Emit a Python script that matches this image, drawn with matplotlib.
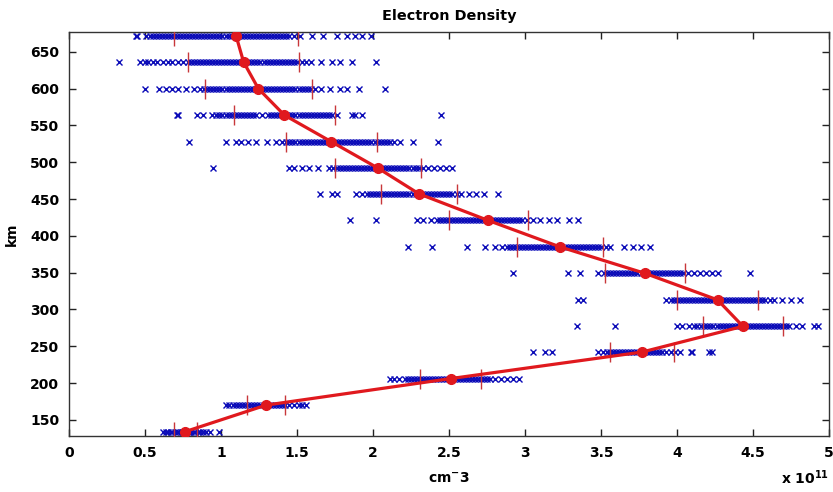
import matplotlib
matplotlib.use("Agg")
import matplotlib.pyplot as plt

# altitude levels (km)
altitudes = [134, 170, 206, 242, 277, 313, 349, 385, 421, 457, 492, 528, 564, 600, 636, 672]

# individual samples per level (units of 1e11 cm^-3)
samples = [
    [0.62, 0.64, 0.65, 0.67, 0.68, 0.70, 0.71, 0.72, 0.74, 0.75, 0.76, 0.78, 0.79, 0.80, 0.82, 0.83,
     0.85, 0.86, 0.88, 0.90, 0.93, 0.99],
    [1.03, 1.05, 1.08, 1.10, 1.12, 1.14, 1.16, 1.18, 1.20, 1.22, 1.24, 1.26, 1.28, 1.30, 1.32, 1.34,
     1.36, 1.38, 1.40, 1.42, 1.45, 1.48, 1.51, 1.53, 1.56],
    [2.11, 2.14, 2.17, 2.21, 2.23, 2.25, 2.27, 2.29, 2.31, 2.33, 2.35, 2.37, 2.39, 2.41, 2.43, 2.45,
     2.47, 2.49, 2.51, 2.53, 2.55, 2.57, 2.59, 2.61, 2.63, 2.65, 2.67, 2.69, 2.71, 2.73, 2.75, 2.77,
     2.80, 2.84, 2.88, 2.92, 2.96],
    [3.05, 3.13, 3.18, 3.48, 3.51, 3.54, 3.56, 3.58, 3.60, 3.62, 3.64, 3.66, 3.68, 3.70, 3.72, 3.74,
     3.76, 3.78, 3.80, 3.82, 3.84, 3.86, 3.88, 3.90, 3.93, 3.96, 3.99, 4.02, 4.09, 4.10, 4.21, 4.23],
    [3.34, 3.59, 4.00, 4.03, 4.08, 4.11, 4.13, 4.16, 4.18, 4.20, 4.22, 4.24, 4.26, 4.28, 4.30, 4.32,
     4.34, 4.36, 4.38, 4.40, 4.42, 4.44, 4.46, 4.48, 4.50, 4.52, 4.54, 4.56, 4.58, 4.60, 4.62, 4.64,
     4.66, 4.68, 4.70, 4.72, 4.74, 4.78, 4.82, 4.90, 4.93],
    [3.35, 3.38, 3.93, 3.96, 3.98, 4.00, 4.02, 4.04, 4.06, 4.08, 4.10, 4.12, 4.14, 4.16, 4.18, 4.20,
     4.22, 4.24, 4.26, 4.28, 4.30, 4.32, 4.34, 4.36, 4.38, 4.40, 4.42, 4.44, 4.46, 4.48, 4.50, 4.52,
     4.54, 4.56, 4.58, 4.61, 4.64, 4.69, 4.75, 4.81],
    [2.92, 3.28, 3.36, 3.48, 3.52, 3.54, 3.56, 3.58, 3.60, 3.62, 3.64, 3.66, 3.68, 3.70, 3.72, 3.74,
     3.76, 3.78, 3.80, 3.82, 3.84, 3.86, 3.88, 3.90, 3.92, 3.94, 3.96, 3.98, 4.00, 4.02, 4.04, 4.07,
     4.11, 4.15, 4.19, 4.23, 4.27, 4.48],
    [2.23, 2.39, 2.62, 2.74, 2.80, 2.85, 2.88, 2.90, 2.92, 2.94, 2.96, 2.98, 3.00, 3.02, 3.04, 3.06,
     3.08, 3.10, 3.12, 3.14, 3.16, 3.18, 3.20, 3.22, 3.24, 3.26, 3.28, 3.30, 3.32, 3.34, 3.36, 3.38,
     3.40, 3.42, 3.44, 3.46, 3.48, 3.50, 3.53, 3.56, 3.65, 3.71, 3.76, 3.82],
    [1.85, 2.02, 2.29, 2.33, 2.38, 2.42, 2.44, 2.46, 2.48, 2.50, 2.52, 2.54, 2.56, 2.58, 2.60, 2.62,
     2.64, 2.66, 2.68, 2.70, 2.72, 2.74, 2.76, 2.78, 2.80, 2.82, 2.84, 2.86, 2.88, 2.90, 2.92, 2.94,
     2.96, 2.98, 3.01, 3.05, 3.10, 3.16, 3.21, 3.29, 3.35],
    [1.65, 1.73, 1.76, 1.89, 1.93, 1.96, 1.98, 2.00, 2.02, 2.04, 2.06, 2.08, 2.10, 2.12, 2.14, 2.16,
     2.18, 2.20, 2.22, 2.24, 2.26, 2.28, 2.30, 2.32, 2.34, 2.36, 2.38, 2.40, 2.42, 2.44, 2.46, 2.48,
     2.50, 2.52, 2.55, 2.58, 2.63, 2.68, 2.73, 2.82],
    [0.95, 1.45, 1.48, 1.53, 1.58, 1.64, 1.71, 1.74, 1.76, 1.78, 1.80, 1.82, 1.84, 1.86, 1.88, 1.90,
     1.92, 1.94, 1.96, 1.98, 2.00, 2.02, 2.04, 2.06, 2.08, 2.10, 2.12, 2.14, 2.16, 2.18, 2.20, 2.22,
     2.24, 2.26, 2.28, 2.30, 2.33, 2.36, 2.40, 2.44, 2.48, 2.52],
    [0.79, 1.03, 1.10, 1.13, 1.18, 1.23, 1.30, 1.36, 1.40, 1.43, 1.45, 1.47, 1.49, 1.51, 1.53, 1.55,
     1.57, 1.59, 1.61, 1.63, 1.65, 1.67, 1.69, 1.71, 1.73, 1.75, 1.77, 1.79, 1.81, 1.83, 1.85, 1.87,
     1.89, 1.91, 1.93, 1.95, 1.97, 1.99, 2.01, 2.03, 2.05, 2.07, 2.09, 2.11, 2.14, 2.18, 2.26, 2.43],
    [0.71, 0.72, 0.84, 0.88, 0.94, 0.97, 0.99, 1.01, 1.03, 1.05, 1.07, 1.09, 1.11, 1.13, 1.15, 1.17,
     1.19, 1.21, 1.23, 1.27, 1.31, 1.33, 1.35, 1.37, 1.39, 1.41, 1.43, 1.45, 1.47, 1.49, 1.51, 1.53,
     1.55, 1.57, 1.59, 1.61, 1.63, 1.65, 1.67, 1.69, 1.71, 1.73, 1.76, 1.86, 1.88, 1.93, 2.45],
    [0.50, 0.59, 0.64, 0.68, 0.72, 0.77, 0.82, 0.86, 0.89, 0.91, 0.93, 0.95, 0.97, 0.99, 1.01, 1.03,
     1.05, 1.07, 1.09, 1.11, 1.13, 1.15, 1.17, 1.19, 1.21, 1.23, 1.25, 1.27, 1.29, 1.31, 1.33, 1.35,
     1.37, 1.39, 1.41, 1.43, 1.45, 1.47, 1.49, 1.51, 1.53, 1.55, 1.57, 1.59, 1.62, 1.66, 1.72, 1.78,
     1.83, 1.91, 2.08],
    [0.33, 0.47, 0.50, 0.52, 0.55, 0.58, 0.62, 0.65, 0.68, 0.72, 0.75, 0.78, 0.80, 0.82, 0.84, 0.86,
     0.88, 0.90, 0.92, 0.94, 0.96, 0.98, 1.00, 1.02, 1.04, 1.06, 1.08, 1.10, 1.12, 1.14, 1.16, 1.18,
     1.20, 1.22, 1.24, 1.26, 1.28, 1.30, 1.32, 1.34, 1.36, 1.38, 1.40, 1.42, 1.44, 1.46, 1.48, 1.50,
     1.53, 1.56, 1.59, 1.66, 1.73, 1.78, 1.86, 2.02],
    [0.44, 0.45, 0.51, 0.53, 0.55, 0.57, 0.59, 0.61, 0.63, 0.65, 0.67, 0.69, 0.71, 0.73, 0.75, 0.77,
     0.79, 0.81, 0.83, 0.85, 0.87, 0.89, 0.91, 0.93, 0.95, 0.97, 0.99, 1.01, 1.03, 1.05, 1.07, 1.09,
     1.11, 1.13, 1.15, 1.17, 1.19, 1.21, 1.23, 1.25, 1.27, 1.29, 1.31, 1.33, 1.35, 1.37, 1.39, 1.41,
     1.43, 1.45, 1.48, 1.52, 1.60, 1.67, 1.76, 1.83, 1.88, 1.93, 1.99],
]

# mean profile and spread per level (units of 1e11 cm^-3)
mean_density = [0.765, 1.297, 2.51, 3.768, 4.434, 4.267, 3.79, 3.23, 2.757, 2.303, 2.033, 1.725,
                1.417, 1.246, 1.149, 1.099]
std_density = [0.075, 0.125, 0.20, 0.21, 0.265, 0.265, 0.265, 0.28, 0.26, 0.25, 0.28, 0.30,
               0.33, 0.35, 0.365, 0.405]

x_ticks = [0, 0.5, 1, 1.5, 2, 2.5, 3, 3.5, 4, 4.5, 5]
x_tick_labels = ['0', '0.5', '1', '1.5', '2', '2.5', '3', '3.5', '4', '4.5', '5']
y_ticks = [150, 200, 250, 300, 350, 400, 450, 500, 550, 600, 650]

plt.rcParams['font.family'] = ['DejaVu Sans']
plt.rcParams['font.weight'] = 'bold'
plt.rcParams['mathtext.fontset'] = 'dejavusans'
plt.rcParams['mathtext.default'] = 'bf'

fig = plt.figure(figsize=(8.33, 4.92), dpi=100)
ax = fig.add_axes([0.0828, 0.1138, 0.9124, 0.8212])

blue = '#0c0cb8'
red = '#e0191e'

for alt, vals in zip(altitudes, samples):
    ax.plot(vals, [alt] * len(vals), linestyle='none', marker='x', markersize=5,
            markeredgewidth=1.0, color=blue, zorder=2)

ax.plot(mean_density, altitudes, color=red, linewidth=2.3, marker='o', markersize=7,
        markerfacecolor=red, markeredgecolor=red, zorder=4)

lo = [m - s for m, s in zip(mean_density, std_density)]
hi = [m + s for m, s in zip(mean_density, std_density)]
ax.plot(lo, altitudes, linestyle='none', marker='|', markersize=14, markeredgewidth=1.0,
        color='#c8373a', zorder=3)
ax.plot(hi, altitudes, linestyle='none', marker='|', markersize=14, markeredgewidth=1.0,
        color='#c8373a', zorder=3)

ax.set_xlim(0, 5)
ax.set_ylim(128, 677)
ax.set_xticks(x_ticks)
ax.set_xticklabels(x_tick_labels)
ax.set_yticks(y_ticks)
ax.tick_params(direction='in', length=5, width=1, top=True, right=True,
               labelsize=10, pad=7, colors='#222222', labelcolor='black')
for lab in ax.get_xticklabels() + ax.get_yticklabels():
    lab.set_fontweight('bold')
for sp in ax.spines.values():
    sp.set_linewidth(1.0)
    sp.set_color('#333333')

ax.set_title('Electron Density', fontsize=10.4, fontweight='bold', pad=8.5)
ax.set_ylabel('km', fontsize=10, fontweight='bold', labelpad=8)
ax.set_xlabel(r'cm$^{-}$3', fontsize=10, fontweight='bold', labelpad=8)
fig.text(0.937, 0.016, r'x 10$^{11}$', fontsize=10, fontweight='bold', ha='left', va='baseline')

fig.savefig('out.png', dpi=100)
